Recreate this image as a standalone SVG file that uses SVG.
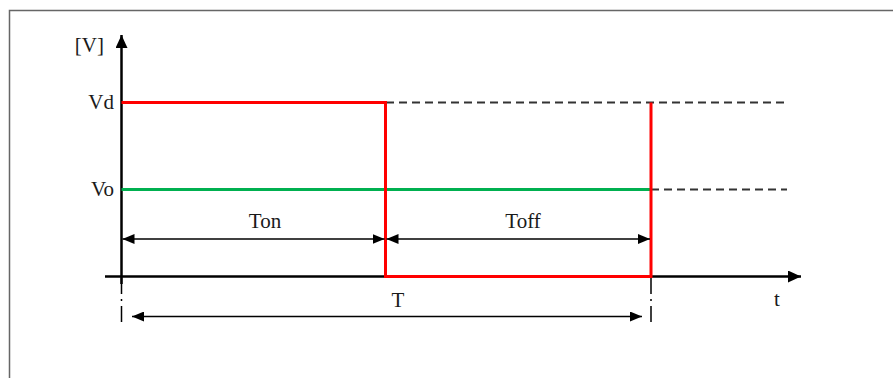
<svg xmlns="http://www.w3.org/2000/svg" width="893" height="378" viewBox="0 0 893 378">
<style>
text{font-family:"Liberation Serif","Times New Roman",serif;font-size:21px;fill:#1a1a1a}
.axis{stroke:#000;stroke-width:2.5;fill:none}
.red{stroke:#ff0000;stroke-width:3;fill:none}
.green{stroke:#00b050;stroke-width:3;fill:none}
.dash{stroke:#333;stroke-width:2;stroke-dasharray:8,5;fill:none}
.dim{stroke:#000;stroke-width:1.5;fill:none}
.dd{stroke:#000;stroke-width:1.5;stroke-dasharray:16,5,2,5;fill:none}
</style>
<defs>
<marker id="ah" viewBox="0 0 12 10" refX="12" refY="5" markerWidth="12" markerHeight="10" markerUnits="userSpaceOnUse" orient="auto-start-reverse"><path d="M0,0L12,5L0,10Z" fill="#000"/></marker>
<marker id="axh" viewBox="0 0 13 12" refX="13" refY="6" markerWidth="13" markerHeight="12" markerUnits="userSpaceOnUse" orient="auto"><path d="M0,0L13,6L0,12Z" fill="#000"/></marker>
</defs>
<rect x="9.5" y="10.5" width="900" height="400" fill="#fff" stroke="#666" stroke-width="1.5"/>
<g id="connectors">
<line class="dash" x1="386" y1="102.5" x2="787" y2="102.5"/>
<line class="dash" x1="651" y1="189.5" x2="787" y2="189.5"/>
<line class="dd" x1="121.5" y1="278" x2="121.5" y2="326"/>
<line class="dd" x1="651" y1="278" x2="651" y2="326"/>
<line class="axis" x1="121.5" y1="284" x2="121.5" y2="35" marker-end="url(#axh)"/>
<line class="axis" x1="105" y1="276.5" x2="801" y2="276.5" marker-end="url(#axh)"/>
<line class="green" x1="121.5" y1="189.5" x2="651" y2="189.5"/>
<polyline class="red" points="121.5,102.5 385.5,102.5 385.5,276.5 651,276.5 651,102.5"/>
<line class="dim" x1="122.5" y1="239" x2="384.5" y2="239" marker-start="url(#ah)" marker-end="url(#ah)"/>
<line class="dim" x1="386.5" y1="239" x2="650" y2="239" marker-start="url(#ah)" marker-end="url(#ah)"/>
<line class="dim" x1="132" y1="316.5" x2="642" y2="316.5" marker-start="url(#ah)" marker-end="url(#ah)"/>
</g>
<g id="labels">
<text x="104" y="52" text-anchor="end">[V]</text>
<text x="114" y="109" text-anchor="end">Vd</text>
<text x="114" y="196" text-anchor="end">Vo</text>
<text x="265" y="228" text-anchor="middle">Ton</text>
<text x="523" y="228" text-anchor="middle">Toff</text>
<text x="398" y="307" text-anchor="middle">T</text>
<text x="777" y="306" text-anchor="middle">t</text>
</g>
</svg>
